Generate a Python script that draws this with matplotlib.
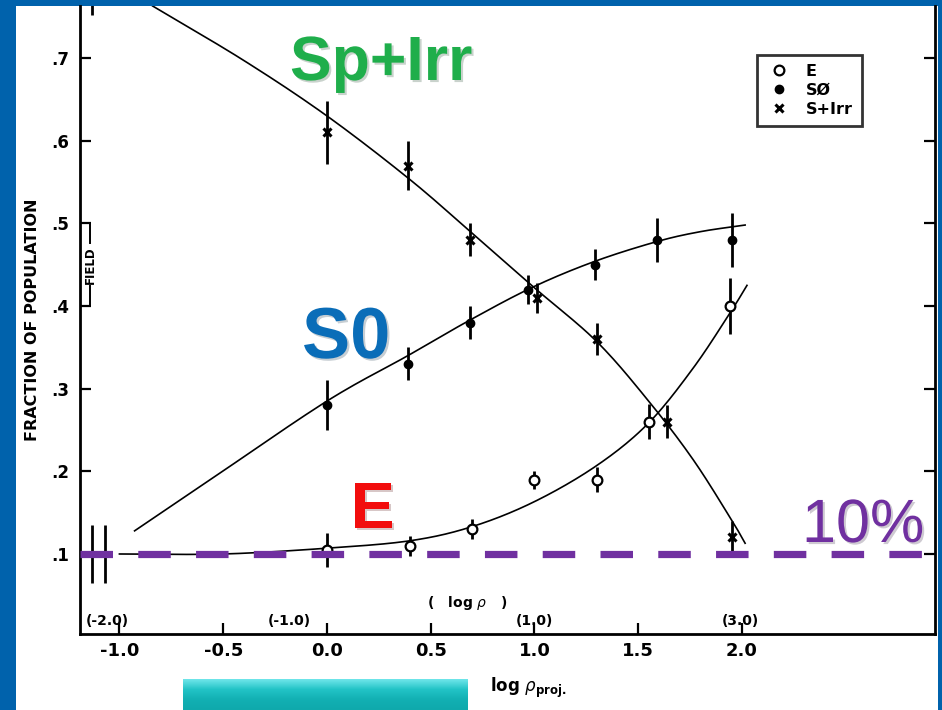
import numpy as np
import matplotlib
matplotlib.use("Agg")
import matplotlib.pyplot as plt
import matplotlib.patheffects as pe
from matplotlib.colors import LinearSegmentedColormap

# ---- measured fractions (Dressler 1980 style morphology-density) ----
x_sirr = [0.0, 0.39, 0.69, 1.01, 1.30, 1.64, 1.95]
y_sirr = [0.61, 0.57, 0.48, 0.41, 0.36, 0.26, 0.12]
e_sirr = [0.038, 0.03, 0.02, 0.018, 0.019, 0.02, 0.02]

x_s0 = [0.0, 0.39, 0.69, 0.97, 1.29, 1.59, 1.95]
y_s0 = [0.28, 0.33, 0.38, 0.42, 0.45, 0.48, 0.48]
e_s0 = [0.03, 0.02, 0.02, 0.018, 0.019, 0.027, 0.033]

x_e = [0.0, 0.40, 0.70, 1.00, 1.30, 1.55, 1.94]
y_e = [0.105, 0.11, 0.13, 0.19, 0.19, 0.26, 0.40]
e_e = [0.021, 0.012, 0.012, 0.011, 0.015, 0.021, 0.034]

# field values at the left edge
field_x = [-1.13, -1.07]
field_y = [0.10, 0.10]
field_err = [0.035, 0.035]
field_sirr_x = [-1.13]
field_sirr_y = [0.787]
field_sirr_err = [0.035]

# hand-drawn trend curves (knots)
curve_sirr_x = [-0.84, -0.40, 0.0, 0.40, 0.70, 1.00, 1.30, 1.55, 1.765, 1.95, 2.015]
curve_sirr_y = [0.763, 0.697, 0.630, 0.553, 0.488, 0.422, 0.357, 0.285, 0.214, 0.141, 0.113]
curve_s0_x = [-0.927, -0.55, 0.0, 0.39, 0.689, 0.993, 1.29, 1.59, 1.80, 2.015]
curve_s0_y = [0.128, 0.192, 0.285, 0.340, 0.383, 0.423, 0.454, 0.478, 0.490, 0.498]
curve_e_x = [-1.0, -0.5, 0.0, 0.4, 0.698, 0.997, 1.30, 1.548, 1.765, 1.943, 2.024]
curve_e_y = [0.100, 0.100, 0.107, 0.116, 0.133, 0.163, 0.207, 0.258, 0.325, 0.392, 0.425]

xticks = [-1.0, -0.5, 0.0, 0.5, 1.0, 1.5, 2.0]
xticklabels = ["-1.0", "-0.5", "0.0", "0.5", "1.0", "1.5", "2.0"]
yticks = [0.1, 0.2, 0.3, 0.4, 0.5, 0.6, 0.7]
yticklabels = [".1", ".2", ".3", ".4", ".5", ".6", ".7"]
rho_labels = ["(-2.0)", "(-1.0)", "(1.0)", "(3.0)"]
rho_pos = [-1.056, -0.183, 0.999, 1.992]


def smooth(xs, ys, n=20):
    """Catmull-Rom path through the knots so the drawn curve is smooth."""
    p = np.column_stack([xs, ys]).astype(float)
    p = np.vstack([2 * p[0] - p[1], p, 2 * p[-1] - p[-2]])
    out = []
    t = np.linspace(0, 1, n, endpoint=False)[:, None]
    for i in range(1, len(p) - 2):
        p0, p1, p2, p3 = p[i - 1], p[i], p[i + 1], p[i + 2]
        seg = 0.5 * ((2 * p1) + (-p0 + p2) * t + (2 * p0 - 5 * p1 + 4 * p2 - p3) * t ** 2
                     + (-p0 + 3 * p1 - 3 * p2 + p3) * t ** 3)
        out.append(seg)
    out.append(p[-2][None, :])
    out = np.vstack(out)
    return out[:, 0], out[:, 1]


W, H = 942, 710
fig = plt.figure(figsize=(W / 100, H / 100), dpi=100)
fig.patch.set_facecolor("#0062ac")

# white slide panel
panel = fig.add_axes([16 / W, 0, (938 - 16) / W, (H - 6) / H], zorder=0)
panel.set_axis_off()
panel.add_artist(plt.Rectangle((0, 0), 1, 1, transform=panel.transAxes,
                               facecolor="white", edgecolor="none"))

ax = fig.add_axes([80 / W, 1 - 634 / H, (935 - 80) / W, (634 - 6) / H], zorder=2)
ax.set_facecolor("none")
X0, X1, Y0, Y1 = -1.19, 2.93, 0.0032, 0.763
ax.set_xlim(X0, X1)
ax.set_ylim(Y0, Y1)
for s in ["left", "bottom", "right"]:
    ax.spines[s].set_linewidth(2.0)
ax.spines["top"].set_visible(False)

ax.set_xticks(xticks)
ax.set_xticklabels(xticklabels, fontsize=13, fontweight="bold", family="DejaVu Sans")
ax.set_yticks(yticks)
ax.set_yticklabels(yticklabels, fontsize=12, fontweight="bold", family="DejaVu Sans")
ax.tick_params(axis="both", direction="in", length=8, width=1.6, pad=6)
ax.tick_params(axis="y", right=True, pad=8)

ax.set_ylabel("FRACTION OF POPULATION", fontsize=11.5, fontweight="bold",
              family="DejaVu Sans", labelpad=8)

# curves
for cx, cy in [(curve_sirr_x, curve_sirr_y), (curve_s0_x, curve_s0_y),
               (curve_e_x, curve_e_y)]:
    sx, sy = smooth(cx, cy)
    ax.plot(sx, sy, color="black", lw=1.2, zorder=2)

# error bars
eb = dict(fmt="none", ecolor="black", elinewidth=2.0, capsize=0, zorder=3)
ax.errorbar(x_sirr, y_sirr, yerr=e_sirr, **eb)
ax.errorbar(x_s0, y_s0, yerr=e_s0, **eb)
ax.errorbar(x_e, y_e, yerr=e_e, **eb)
ax.errorbar(field_x, field_y, yerr=field_err, **eb)
ax.errorbar(field_sirr_x, field_sirr_y, yerr=field_sirr_err, **eb)

# markers
ax.plot(x_e, y_e, ls="none", marker="o", ms=7, mfc="white", mec="black", mew=1.6,
        zorder=4, label="E")
ax.plot(x_s0, y_s0, ls="none", marker="o", ms=6, mfc="black", mec="black",
        zorder=4, label="S\u00d8")
ax.plot(x_sirr, y_sirr, ls="none", marker="x", ms=6, mec="black", mew=2.2,
        zorder=4, label="S+Irr")

leg = ax.legend(loc="upper left", bbox_to_anchor=(0.792, 0.922), fancybox=False,
                frameon=True, edgecolor="black", handlelength=1.6,
                handletextpad=0.9, borderpad=0.55, labelspacing=0.25,
                borderaxespad=0, prop={"weight": "bold", "size": 11.5,
                                       "family": "DejaVu Sans"})
leg.get_frame().set_linewidth(2.0)

# field bracket between .4 and .5
FX = -1.14
ax.plot([FX, FX], [0.5, 0.476], color="black", lw=1.4, zorder=3)
ax.plot([FX, FX], [0.424, 0.40], color="black", lw=1.4, zorder=3)
ax.text(FX, 0.45, "FIELD", rotation=90, ha="center", va="center", fontsize=8.5,
        fontweight="bold", family="DejaVu Sans")

# secondary density scale
for lab, xp in zip(rho_labels, rho_pos):
    ax.text(xp, 0.0185, lab, ha="center", va="center", fontsize=10,
            fontweight="bold", family="DejaVu Sans")
ax.text(0.675, 0.041, r"(   log $\rho$   )", ha="center", va="center", fontsize=10,
        fontweight="bold", family="DejaVu Sans")
fig.text(490 / W, 1 - 688 / H, r"log $\rho_{\mathbf{proj.}}$", ha="left", va="center",
         fontsize=12, fontweight="bold", family="DejaVu Sans")

# 10% reference line
ax.axhline(0.1, color="#7030a0", lw=5.2, dashes=(4.5, 3.5), dash_capstyle="butt",
           zorder=5)


def px_to_data(px, py):
    return (X0 + (px - 80) / 855 * (X1 - X0), Y1 - (py - 6) / 628 * (Y1 - Y0))


shadow = [pe.SimplePatchShadow(offset=(1.5, -1.5), alpha=0.22), pe.Normal()]
labels = [("Sp+Irr", 290, 80, "#1fae4b", 45, "bold"),
          ("S0", 302, 358, "#0a6db8", 52, "bold"),
          ("E", 351, 528, "#f20d0d", 47, "bold"),
          ("10%", 802, 542, "#7030a0", 44, "normal")]
for txt, px, py, col, fs, fw in labels:
    tx, ty = px_to_data(px, py)
    ax.text(tx, ty, txt, color=col, fontsize=fs, fontweight=fw,
            family="Liberation Sans", ha="left", va="baseline",
            path_effects=shadow, zorder=6)

# teal button at the bottom edge
bax = fig.add_axes([183 / W, 0, (468 - 183) / W, 31 / H], zorder=3)
grad = np.linspace(0, 1, 64).reshape(-1, 1)
cmap = LinearSegmentedColormap.from_list("teal", ["#6fe6ea", "#22c3c6", "#12b0b3", "#0fa9ac"])
bax.imshow(grad, aspect="auto", cmap=cmap, extent=[0, 1, 0, 1])
bax.set_axis_off()

fig.savefig("out.png", dpi=100, facecolor=fig.get_facecolor())
